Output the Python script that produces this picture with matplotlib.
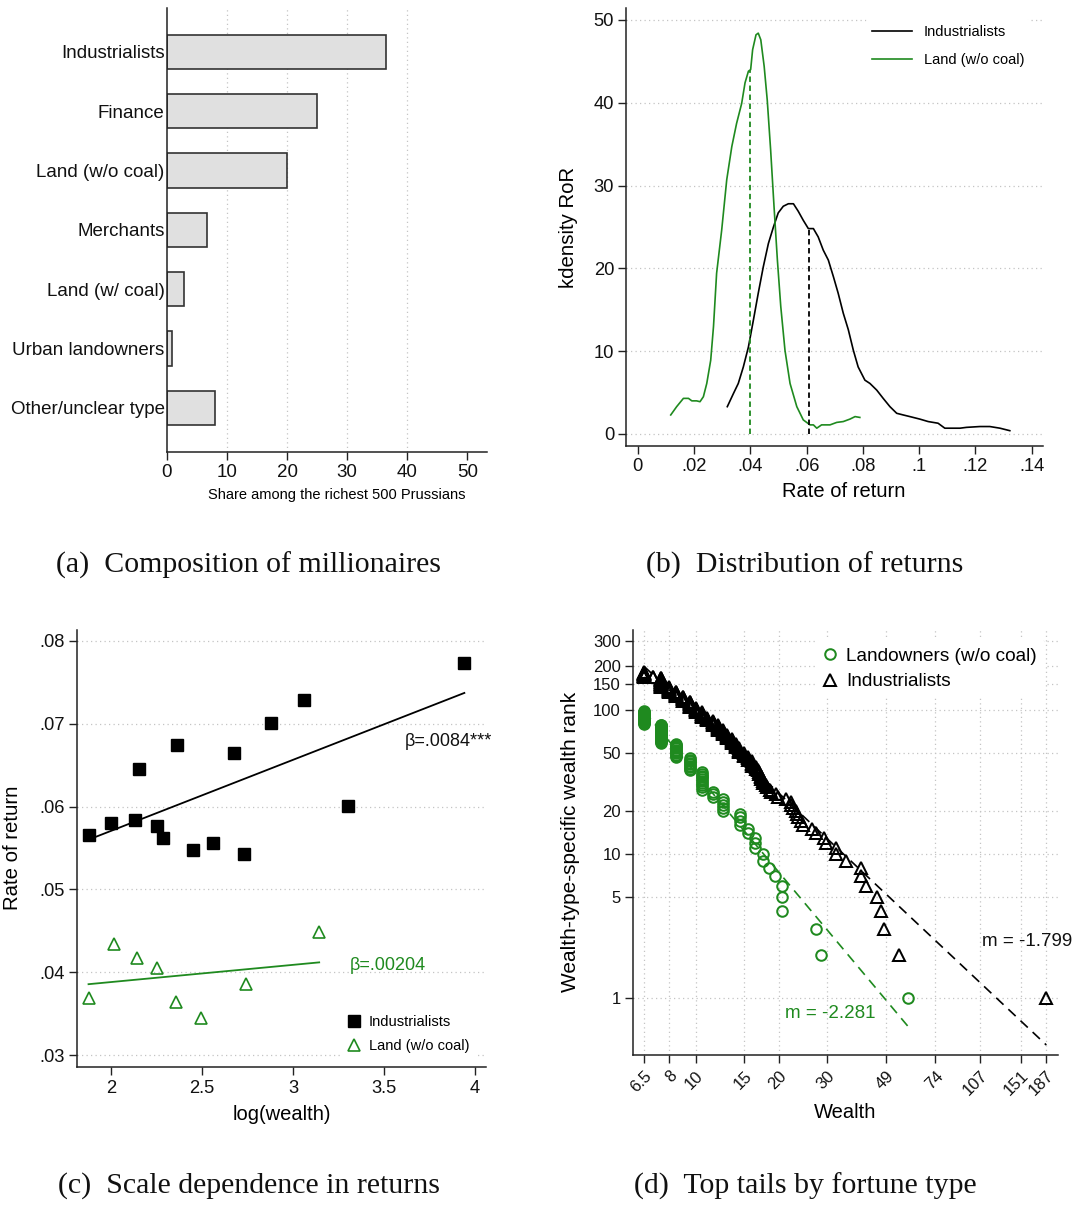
import numpy as np
import matplotlib
matplotlib.use('Agg')
import matplotlib.pyplot as plt

plt.rcParams['font.family'] = ['Liberation Sans', 'DejaVu Sans']

# ---------------- data ----------------
# (a) composition
a_categories = ['Industrialists', 'Finance', 'Land (w/o coal)', 'Merchants',
                'Land (w/ coal)', 'Urban landowners', 'Other/unclear type']
a_shares = [36.4, 25.0, 20.0, 6.75, 2.8, 0.95, 8.0]
a_xticks = [0, 10, 20, 30, 40, 50]

# (b) kernel densities of returns
ind_kd_x = [.0318, .0340, .0357, .0375, .0393, .0411, .0428, .0446, .0464, .0482,
            .0499, .0517, .0535, .0553, .0570, .0588, .0606, .0624, .0641, .0659,
            .0677, .0695, .0712, .0730, .0748, .0766, .0783, .0807, .0825, .0849,
            .0872, .0896, .0920, .0943, .0967, .1002, .1032, .1067, .1091, .1109,
            .1145, .1168, .1216, .1251, .1287, .1322]
ind_kd_y = [3.3, 4.9, 6.1, 8.1, 10.5, 13.8, 17.0, 20.2, 23.0, 25.0,
            26.7, 27.5, 27.8, 27.8, 26.9, 25.8, 24.8, 24.8, 23.8, 22.2,
            21.0, 19.0, 17.0, 14.6, 12.6, 10.1, 8.1, 6.5, 6.1, 5.3,
            4.3, 3.3, 2.5, 2.3, 2.1, 1.8, 1.5, 1.3, 0.7, 0.7,
            0.7, 0.8, 0.9, 0.9, 0.7, 0.4]
land_kd_x = [.0117, .0138, .0162, .0180, .0192, .0209, .0221, .0233, .0245, .0259,
             .0269, .0280, .0298, .0316, .0334, .0351, .0369, .0381, .0393, .0401,
             .0408, .0420, .0428, .0437, .0449, .0460, .0472, .0484, .0496, .0508,
             .0523, .0541, .0565, .0588, .0612, .0624, .0636, .0653, .0683, .0707,
             .0730, .0754, .0772, .0789]
land_kd_y = [2.3, 3.3, 4.3, 4.3, 4.0, 4.0, 3.9, 4.5, 6.1, 8.9,
             13.0, 19.4, 24.6, 30.7, 34.7, 37.5, 39.9, 42.4, 43.8, 44.0,
             46.4, 48.2, 48.4, 47.6, 44.4, 40.3, 34.3, 27.5, 21.0, 15.4,
             10.1, 6.1, 3.3, 1.7, 1.1, 1.1, 0.7, 1.1, 1.1, 1.4,
             1.5, 1.8, 2.1, 2.0]
ind_median = 0.061
land_median = 0.040
b_xticks = [0, .02, .04, .06, .08, .1, .12, .14]
b_xticklabels = ['0', '.02', '.04', '.06', '.08', '.1', '.12', '.14']
b_yticks = [0, 10, 20, 30, 40, 50]

# (c) scale dependence
ind_logw = [1.875, 2.000, 2.132, 2.150, 2.251, 2.282, 2.361, 2.447, 2.559, 2.676,
            2.729, 2.879, 3.057, 3.302, 3.941]
ind_ror = [.0566, .0580, .0584, .0645, .0577, .0562, .0674, .0547, .0556, .0664,
           .0543, .0701, .0728, .0601, .0773]
land_logw = [1.875, 2.016, 2.141, 2.253, 2.354, 2.496, 2.740, 3.143]
land_ror = [.0369, .0434, .0417, .0405, .0364, .0345, .0386, .0448]
c_xticks = [2, 2.5, 3, 3.5, 4]
c_xticklabels = ['2', '2.5', '3', '3.5', '4']
c_yticks = [.03, .04, .05, .06, .07, .08]
c_yticklabels = ['.03', '.04', '.05', '.06', '.07', '.08']
ind_beta_label = 'β=.0084***'
land_beta_label = 'β=.00204'

# (d) top tails: wealth levels (descending) and number of fortunes at each level
land_w = [59, 28.4, 27.4, 20.5, 19.4, 18.5, 17.6, 16.4, 15.5, 14.5, 12.5, 11.5,
          10.5, 9.5, 8.5, 7.5, 6.5]
land_n = [1, 1, 1, 3, 1, 1, 2, 3, 2, 4, 5, 3, 10, 9, 12, 21, 19]
ind_w = [187, 54.5, 48.3, 46.8, 45.4, 41.3, 39.6, 35.1, 32.3, 29.7,
         29.3, 27.4, 26.3, 24.5, 24.0, 23.5, 23.2, 23.0, 22.5, 22.2,
         21.3, 19.8, 19.5, 18.8, 18.6, 18.1, 18.0, 17.6, 17.3, 17.0,
         16.8, 16.6, 16.0, 15.5, 15.0, 14.4, 14.0, 13.5, 13.0, 12.5,
         12.0, 11.5, 11.0, 10.5, 10.0, 9.5, 9.0, 8.5, 8.0, 7.5,
         7.0, 6.5]
ind_n = [1, 1, 1, 1, 1, 1, 2, 1, 2, 1,
         1, 1, 1, 1, 1, 1, 1, 1, 1, 2,
         1, 1, 1, 1, 1, 1, 1, 2, 3, 2,
         1, 2, 4, 3, 3, 4, 4, 5, 4, 5,
         6, 6, 4, 8, 7, 11, 9, 10, 10, 24,
         2, 13]
land_slope, land_log10_intercept = -2.281, 3.842
ind_slope, ind_log10_intercept = -1.799, 3.763
d_xticks = [6.5, 8, 10, 15, 20, 30, 49, 74, 107, 151, 187]
d_xticklabels = ['6.5', '8', '10', '15', '20', '30', '49', '74', '107', '151', '187']
d_yticks = [1, 5, 10, 20, 50, 100, 150, 200, 300]
d_yticklabels = ['1', '5', '10', '20', '50', '100', '150', '200', '300']

captions = ['(a)  Composition of millionaires', '(b)  Distribution of returns',
            '(c)  Scale dependence in returns', '(d)  Top tails by fortune type']

# ---------------- figure ----------------
W, H = 1078, 1205
fig = plt.figure(figsize=(W / 100, H / 100), dpi=100)

GREEN = '#1f8a1f'
SPINE = '#222222'
GRID = dict(color='#c4c4c4', linestyle=(0, (1, 2.6)), linewidth=0.9)


def add_ax(l, r, t, b):
    ax = fig.add_axes([l / W, 1 - b / H, (r - l) / W, (b - t) / H])
    ax._px = (l, r, t, b)
    for s in ['top', 'right']:
        ax.spines[s].set_visible(False)
    for s in ['left', 'bottom']:
        ax.spines[s].set_color(SPINE)
        ax.spines[s].set_linewidth(1.1)
    ax.tick_params(color=SPINE, length=5.5, width=1.0, labelcolor='#111111', pad=3)
    ax.set_axisbelow(True)
    return ax


def to_ax(ax, px, py):
    l, r, t, b = ax._px
    return (px - l) / (r - l), (b - py) / (b - t)


def place_xlabel(ax, px, py):
    ax.xaxis.set_label_coords(*to_ax(ax, px, py))
    ax.xaxis.label.set_va('center')


def place_ylabel(ax, px, py):
    ax.yaxis.set_label_coords(*to_ax(ax, px, py))
    ax.yaxis.label.set_va('center')


def fig_anchor(px, py):
    return (px / W, 1 - py / H)


def white_legend(leg):
    fr = leg.get_frame()
    fr.set_facecolor('white')
    fr.set_edgecolor('none')
    fr.set_alpha(1)


# ---- (a)
ax = add_ax(166.7, 486.7, 8, 451.7)
ypos = np.arange(len(a_categories))
ax.barh(ypos, a_shares, height=0.575, color='#e0e0e0', edgecolor='#333333', linewidth=1.2)
ax.set_ylim(len(a_categories) - 1 + 0.74, -0.74)
ax.set_xlim(0, 53.2)
ax.set_yticks(ypos)
ax.set_yticklabels(a_categories, fontsize=13.5)
ax.tick_params(axis='y', length=0, pad=1.5)
ax.set_xticks(a_xticks)
ax.set_xticklabels([str(v) for v in a_xticks], fontsize=13.5)
ax.xaxis.grid(True, **GRID)
gl = ax.get_xgridlines()
gl[0].set_visible(False)
gl[-1].set_visible(False)
ax.set_xlabel('Share among the richest 500 Prussians', fontsize=10.5)
place_xlabel(ax, 337, 495.5)

# ---- (b)
ax = add_ax(626, 1043.3, 8.3, 446)
ax.plot(ind_kd_x, ind_kd_y, color='black', lw=1.2, label='Industrialists')
ax.plot(land_kd_x, land_kd_y, color=GREEN, lw=1.2, label='Land (w/o coal)')
ax.plot([ind_median, ind_median], [0, np.interp(ind_median, ind_kd_x, ind_kd_y)],
        color='black', lw=1.3, linestyle=(0, (3, 2)))
ax.plot([land_median, land_median], [0, np.interp(land_median, land_kd_x, land_kd_y)],
        color=GREEN, lw=1.3, linestyle=(0, (3, 2)))
ax.set_xlim(-0.0042, 0.1441)
ax.set_ylim(-1.45, 51.4)
ax.set_xticks(b_xticks)
ax.set_xticklabels(b_xticklabels, fontsize=13.2)
ax.set_yticks(b_yticks)
ax.set_yticklabels([str(v) for v in b_yticks], fontsize=13.2)
ax.yaxis.grid(True, **GRID)
ax.set_xlabel('Rate of return', fontsize=14.5)
place_xlabel(ax, 844, 491.5)
ax.set_ylabel('kdensity RoR', fontsize=14.7)
place_ylabel(ax, 568.5, 227)
leg = ax.legend(loc='upper left', bbox_to_anchor=fig_anchor(866, 19),
                bbox_transform=fig.transFigure, fontsize=10.5, frameon=True,
                handlelength=2.75, handletextpad=0.8, labelspacing=1.0,
                borderpad=0.4, borderaxespad=0)
white_legend(leg)

# ---- (c)
ax = add_ax(76.7, 486, 630, 1066.7)
ax.plot(ind_logw, ind_ror, linestyle='none', marker='s', ms=8.3, color='black',
        label='Industrialists')
ax.plot(land_logw, land_ror, linestyle='none', marker='^', ms=8.0, mfc='none',
        mec=GREEN, mew=1.2, label='Land (w/o coal)')
for xs, ys, col in [(ind_logw, ind_ror, 'black'), (land_logw, land_ror, GREEN)]:
    k, b0 = np.polyfit(xs, ys, 1)
    xx = np.array([min(xs), max(xs)])
    ax.plot(xx, b0 + k * xx, color=col, lw=1.3)
ax.set_xlim(1.81, 4.06)
ax.set_ylim(0.0286, 0.0813)
ax.set_xticks(c_xticks)
ax.set_xticklabels(c_xticklabels, fontsize=13.2)
ax.set_yticks(c_yticks)
ax.set_yticklabels(c_yticklabels, fontsize=13.2)
ax.yaxis.grid(True, **GRID)
ax.tick_params(axis='x', pad=4)
ax.set_xlabel('log(wealth)', fontsize=14.5)
place_xlabel(ax, 282, 1114)
ax.set_ylabel('Rate of return', fontsize=14.7)
place_ylabel(ax, 12.7, 848)
ax.text(*to_ax(ax, 405, 742), ind_beta_label, transform=ax.transAxes, fontsize=13,
        color='#111111', va='center', ha='left')
ax.text(*to_ax(ax, 350, 965), land_beta_label, transform=ax.transAxes, fontsize=13,
        color=GREEN, va='center', ha='left')
leg = ax.legend(loc='upper left', bbox_to_anchor=fig_anchor(341, 1009),
                bbox_transform=fig.transFigure, fontsize=10.5, frameon=True,
                handlelength=1.0, handletextpad=0.5, labelspacing=0.72,
                borderpad=0.4, borderaxespad=0, numpoints=1)
white_legend(leg)

# ---- (d)
ax = add_ax(632.7, 1058.3, 630, 1055)
lw_arr = np.repeat(land_w, land_n)
iw_arr = np.repeat(ind_w, ind_n)
l_rank = np.arange(1, len(lw_arr) + 1)
i_rank = np.arange(1, len(iw_arr) + 1)
xl = np.array([min(land_w), max(land_w)])
xi = np.array([min(ind_w), max(ind_w)])
ax.plot(xl, 10 ** land_log10_intercept * xl ** land_slope, color=GREEN, lw=1.2,
        linestyle=(0, (6, 4)), zorder=2)
ax.plot(xi, 10 ** ind_log10_intercept * xi ** ind_slope, color='black', lw=1.2,
        linestyle=(0, (6, 4)), zorder=2)
ax.plot(lw_arr, l_rank, linestyle='none', marker='o', ms=7.6, mfc='none', mec=GREEN,
        mew=1.45, label='Landowners (w/o coal)', zorder=3)
ax.plot(iw_arr, i_rank, linestyle='none', marker='^', ms=9.0, mfc='none', mec='black',
        mew=1.45, label='Industrialists', zorder=3)
ax.set_xscale('log')
ax.set_yscale('log')
ax.set_xlim(5.90, 206.7)
ax.set_ylim(0.404, 358)
ax.set_xticks(d_xticks)
ax.set_xticklabels(d_xticklabels, fontsize=12, rotation=45, ha='right', va='top',
                   rotation_mode='anchor')
ax.set_yticks(d_yticks)
ax.set_yticklabels(d_yticklabels, fontsize=12)
ax.xaxis.set_minor_locator(matplotlib.ticker.NullLocator())
ax.yaxis.set_minor_locator(matplotlib.ticker.NullLocator())
ax.tick_params(axis='x', pad=4)
ax.grid(True, **GRID)
ax.set_xlabel('Wealth', fontsize=14.5)
place_xlabel(ax, 845, 1113)
ax.set_ylabel('Wealth-type-specific wealth rank', fontsize=15)
place_ylabel(ax, 570, 842)
ax.text(*to_ax(ax, 982.5, 941.5), 'm = -1.799', transform=ax.transAxes, fontsize=13.5,
        color='#111111', va='center', ha='left')
ax.text(*to_ax(ax, 785, 1013), 'm = -2.281', transform=ax.transAxes, fontsize=13.5,
        color=GREEN, va='center', ha='left')
leg = ax.legend(loc='upper left', bbox_to_anchor=fig_anchor(815, 640),
                bbox_transform=fig.transFigure, fontsize=13.7, frameon=True,
                handlelength=0.8, handletextpad=0.45, labelspacing=0.42,
                borderpad=0.4, borderaxespad=0, numpoints=1)
white_legend(leg)

# ---- captions
cap_pos = [(248, 565), (805, 565), (249, 1186), (805, 1186)]
for (cx, cy), txt in zip(cap_pos, captions):
    fig.text(cx / W, 1 - cy / H, txt, ha='center', va='center', fontsize=21.5,
             family=['Liberation Serif', 'DejaVu Serif'], color='#111111')

fig.savefig('out.png', dpi=100)
